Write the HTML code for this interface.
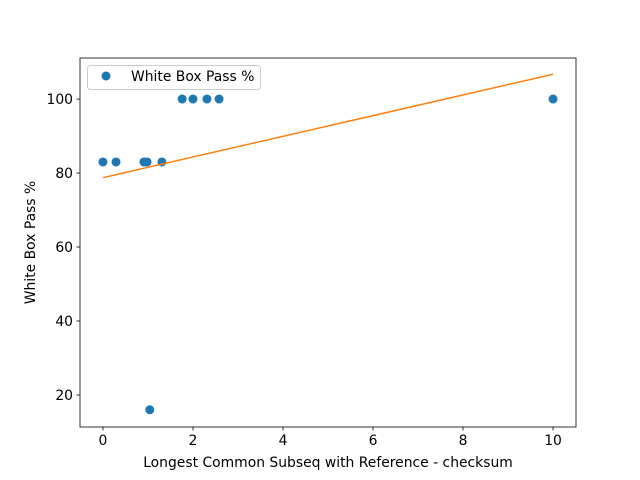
<!DOCTYPE html>
<html><head><meta charset="utf-8"><style>
body{margin:0;background:#fff;}
svg{display:block;font-family:"DejaVu Sans","Liberation Sans",sans-serif;}
</style></head><body>
<svg id="chart" width="640" height="480"></svg>
<script>
const xValues=[0,0.29,0.91,0.98,1.04,1.31,1.76,2,2.31,2.58,10];
const yValues=[83,83,83,83,16,83,100,100,100,100,100];
const xTicks=[0,2,4,6,8,10];
const yTicks=[20,40,60,80,100];
const NS='http://www.w3.org/2000/svg';
const svg=document.getElementById('chart');
const L=80,R=576,T=58,B=427;
const xMin=-0.51,xMax=10.51,yMin=11.35,yMax=111.1;
const sx=v=>L+(v-xMin)/(xMax-xMin)*(R-L);
const sy=v=>B-(v-yMin)/(yMax-yMin)*(B-T);
function mk(tag,attrs,parent){const e=document.createElementNS(NS,tag);for(const k in attrs)e.setAttribute(k,attrs[k]);(parent||svg).appendChild(e);return e;}
xTicks.forEach(t=>{
 const g=mk('g',{});
 
 
 mk('line',{x1:sx(t),x2:sx(t),y1:B,y2:B+3.5,stroke:'#000','stroke-width':0.8},g);
 const tx=mk('text',{x:sx(t),y:B+18,'font-size':13.9,'text-anchor':'middle'},g);tx.textContent=t;
});
yTicks.forEach(t=>{
 const g=mk('g',{});
 
 
 mk('line',{x1:L-3.5,x2:L,y1:sy(t),y2:sy(t),stroke:'#000','stroke-width':0.8},g);
 const tx=mk('text',{x:L-7,y:sy(t)+5,'font-size':13.9,'text-anchor':'end'},g);tx.textContent=t;
});
xValues.forEach((x,i)=>{
 const c=mk('circle',{cx:sx(x),cy:sy(yValues[i]),r:4.5,fill:'#1f77b4'});
 
 
});
const n=xValues.length,mx=xValues.reduce((a,b)=>a+b)/n,my=yValues.reduce((a,b)=>a+b)/n;
let sxy=0,sxx=0;xValues.forEach((x,i)=>{sxy+=(x-mx)*(yValues[i]-my);sxx+=(x-mx)**2;});
const slope=sxy/sxx,icpt=my-slope*mx;
const x0=Math.min(...xValues),x1=Math.max(...xValues);
const ln=mk('line',{x1:sx(x0),y1:sy(icpt+slope*x0),x2:sx(x1),y2:sy(icpt+slope*x1),stroke:'#ff7f0e','stroke-width':1.5});


const fr=mk('rect',{x:L,y:T,width:R-L,height:B-T,fill:'none',stroke:'#000','stroke-width':0.8});


const xl=mk('text',{x:(L+R)/2,y:467,'font-size':13.9,'text-anchor':'middle'});xl.textContent='Longest Common Subseq with Reference - checksum';


const yl=mk('text',{x:0,y:0,'font-size':13.9,'text-anchor':'middle',transform:'translate(35,'+((T+B)/2)+') rotate(-90)'});yl.textContent='White Box Pass %';


const lg=mk('g',{});


mk('rect',{x:87.5,y:65.5,width:173,height:24,rx:3,fill:'#fff',stroke:'#ccc','stroke-width':1},lg);
mk('circle',{cx:106,cy:76,r:4.5,fill:'#1f77b4'},lg);
const lt=mk('text',{x:131,y:81,'font-size':13.9},lg);lt.textContent='White Box Pass %';
</script>
</body></html>
